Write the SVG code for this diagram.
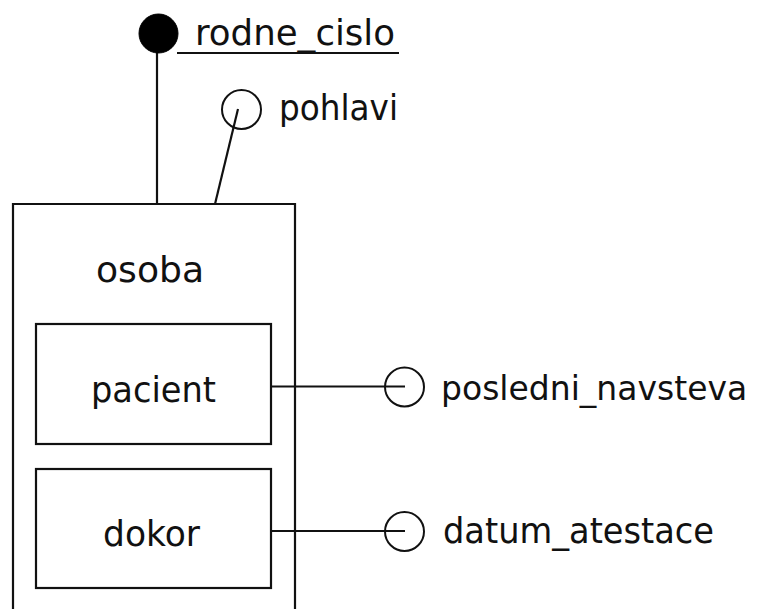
<svg xmlns="http://www.w3.org/2000/svg" width="761" height="609" viewBox="0 0 761 609">
  <style>
    .box { fill: none; stroke: #111; stroke-width: 2.2; }
    .edge { fill: none; stroke: #111; stroke-width: 2.2; }
    .attr { fill: none; stroke: #111; stroke-width: 2; }
    .key { fill: #000; stroke: #000; stroke-width: 1; }
    .lbl { font-family: "DejaVu Sans", "Liberation Sans", sans-serif; font-size: 36px; fill: #111; }
  </style>
  <rect width="761" height="609" fill="#fff"/>

  <!-- connectors -->
  <g id="connectors">
    <line class="edge" x1="157" y1="50" x2="157" y2="204"/>
    <line class="edge" x1="238" y1="109" x2="215" y2="204"/>
    <line class="edge" x1="271" y1="386.5" x2="405" y2="386.5"/>
    <line class="edge" x1="271" y1="531" x2="405" y2="531"/>
  </g>

  <!-- entity osoba (open at the bottom edge) -->
  <g id="osoba">
    <path class="box" d="M13,612 V204 H295 V612"/>
    <text class="lbl" x="96" y="282" textLength="108" lengthAdjust="spacingAndGlyphs">osoba</text>
  </g>

  <g id="pacient">
    <rect class="box" x="36" y="324" width="235" height="120"/>
    <text class="lbl" x="91" y="402" textLength="125" lengthAdjust="spacingAndGlyphs">pacient</text>
  </g>

  <g id="dokor">
    <rect class="box" x="36" y="469" width="235" height="119"/>
    <text class="lbl" x="103" y="546" textLength="97" lengthAdjust="spacingAndGlyphs">dokor</text>
  </g>

  <!-- attributes -->
  <g id="rodne_cislo">
    <circle class="key" cx="158.5" cy="33.5" r="19.5"/>
    <line class="edge" x1="177" y1="53" x2="399" y2="53"/>
    <text class="lbl" x="195" y="45" textLength="200" lengthAdjust="spacingAndGlyphs">rodne_cislo</text>
  </g>

  <g id="pohlavi">
    <circle class="attr" cx="241.5" cy="109.5" r="19.5"/>
    <text class="lbl" x="279" y="120" textLength="119" lengthAdjust="spacingAndGlyphs">pohlavi</text>
  </g>

  <g id="posledni_navsteva">
    <circle class="attr" cx="404.5" cy="387" r="19.5"/>
    <text class="lbl" x="441" y="400" style="font-size:33px">posledni_navsteva</text>
  </g>

  <g id="datum_atestace">
    <circle class="attr" cx="404.5" cy="531.5" r="19.5"/>
    <text class="lbl" x="443" y="543" textLength="271" lengthAdjust="spacingAndGlyphs">datum_atestace</text>
  </g>
</svg>
